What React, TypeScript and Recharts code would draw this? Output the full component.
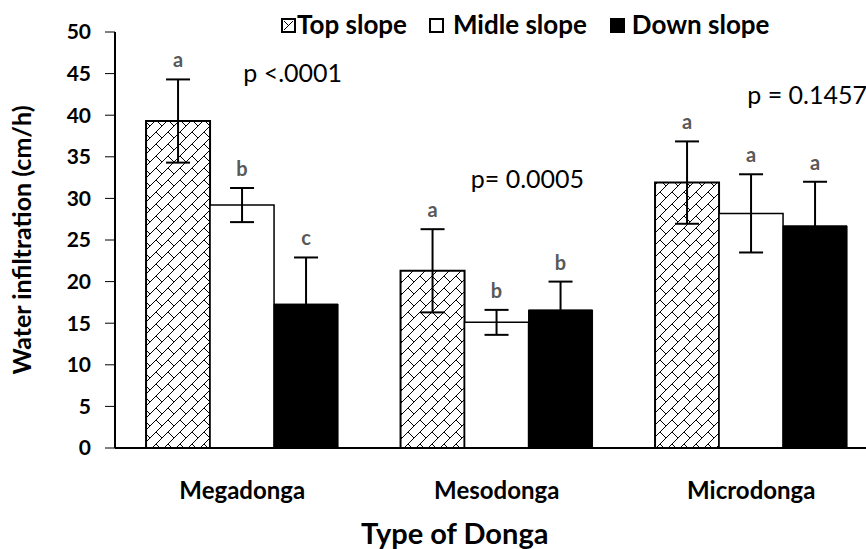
import React from "react";
import {
  Bar,
  BarChart,
  ErrorBar,
  LabelList,
  Legend,
  ReferenceDot,
  XAxis,
  YAxis,
} from "recharts";

const categories = ["Megadonga", "Mesodonga", "Microdonga"];
const topSlope = [39.3, 21.3, 31.9];
const topSlopeErr = [5.0, 5.0, 4.95];
const midSlope = [29.2, 15.1, 28.2];
const midSlopeErr = [2.05, 1.5, 4.7];
const downSlope = [17.3, 16.6, 26.7];
const downSlopeErr = [5.6, 3.4, 5.3];
const topLetters = ["a", "a", "a"];
const midLetters = ["b", "b", "a"];
const downLetters = ["c", "b", "a"];
const yTicks = [0, 5, 10, 15, 20, 25, 30, 35, 40, 45, 50];
const pValues = [
  { cat: "Megadonga", y: 44.0, dx: 1, text: "p <.0001" },
  { cat: "Mesodonga", y: 31.3, dx: -26, text: "p= 0.0005" },
  { cat: "Microdonga", y: 41.3, dx: -4, text: "p = 0.1457" },
];

const data = categories.map((name, i) => ({
  name,
  top: topSlope[i],
  topErr: topSlopeErr[i],
  mid: midSlope[i],
  midErr: midSlopeErr[i],
  down: downSlope[i],
  downErr: downSlopeErr[i],
}));

const FONT = "Lato, 'Open Sans', sans-serif";
const LEGEND_H = 30;

// letter above the error bar, placed from the bar's own pixel height
function letterContent(values: number[], errs: number[], letters: string[]) {
  return (props: any) => {
    const { x, y, width, height, index } = props;
    const ppu = height / values[index];
    const ly = y - errs[index] * ppu - 12;
    return (
      <text
        x={x + width / 2}
        y={ly}
        textAnchor="middle"
        fill="#595959"
        fontFamily={FONT}
        fontWeight={700}
        fontSize={20}
      >
        {letters[index]}
      </text>
    );
  };
}

function LegendBox() {
  const items = [
    { label: "Top slope", kind: "hatch", gap: 1, after: 22 },
    { label: "Midle slope", kind: "white", gap: 9, after: 23 },
    { label: "Down slope", kind: "black", gap: 7, after: 0 },
  ];
  return (
    <div style={{ display: "flex", height: LEGEND_H, alignItems: "center", fontFamily: FONT, fontWeight: 700, fontSize: 26, lineHeight: LEGEND_H + "px" }}>
      {items.map((it) => (
        <div key={it.label} style={{ display: "flex", alignItems: "center", marginRight: it.after }}>
          <svg width={15} height={15} style={{ marginRight: it.gap, marginTop: 2 }}>
            <rect
              x={1}
              y={1}
              width={13}
              height={13}
              fill={it.kind === "black" ? "#000" : "#fff"}
              stroke="#000"
              strokeWidth={2}
            />
            {it.kind === "hatch" && <path d="M3,12 L12,3 M3,3 L7.5,7.5" stroke="#000" strokeWidth={1} />}
          </svg>
          <span style={{ color: "#000" }}>{it.label}</span>
        </div>
      ))}
    </div>
  );
}

const XTick = (props: any) => {
  const { x, y, payload } = props;
  return (
    <text x={x} y={y + 49} textAnchor="middle" fontFamily={FONT} fontWeight={700} fontSize={24} fill="#000">
      {payload.value}
    </text>
  );
};

export default function App() {
  return (
    <div style={{ position: "absolute", left: 0, top: 0, width: 866, height: 549, overflow: "hidden", background: "#fff" }}>
      <BarChart
        width={890}
        height={549}
        data={data}
        margin={{ top: 32 - LEGEND_H, right: 11.5, left: 0, bottom: 0 }}
        barCategoryGap="12.2%"
        barGap={0}
      >
        <defs>
          <pattern id="brick" width={12} height={12} patternUnits="userSpaceOnUse">
            <rect width={12} height={12} fill="#fff" />
            <path d="M-1,13 L13,-1 M0,0 L6,6" stroke="#000" strokeWidth={1} fill="none" />
          </pattern>
        </defs>
        <XAxis
          dataKey="name"
          height={101}
          axisLine={{ stroke: "#000", strokeWidth: 2 }}
          tickLine={false}
          tickSize={0}
          tick={<XTick />}
          interval={0}
          label={{
            value: "Type of Donga",
            position: "insideBottom",
            offset: 5,
            dx: -42,
            fontFamily: FONT,
            fontWeight: 700,
            fontSize: 29,
            fill: "#000",
          }}
        />
        <YAxis
          width={115}
          domain={[0, 50]}
          ticks={yTicks}
          interval={0}
          axisLine={{ stroke: "#000", strokeWidth: 2 }}
          tickLine={{ stroke: "#000", strokeWidth: 1 }}
          tickSize={10}
          tickMargin={14}
          tick={{ fontFamily: FONT, fontWeight: 700, fontSize: 21, fill: "#000" }}
          label={{
            value: "Water infiltration (cm/h)",
            angle: -90,
            position: "insideLeft",
            dx: 17,
            fontFamily: FONT,
            fontWeight: 700,
            fontSize: 25,
            fill: "#000",
            style: { textAnchor: "middle" },
          }}
        />
        <Legend
          verticalAlign="top"
          align="left"
          content={<LegendBox />}
          wrapperStyle={{ top: 9, left: 281, width: 600, height: LEGEND_H }}
        />
        <Bar dataKey="top" name="Top slope" fill="url(#brick)" stroke="#000" strokeWidth={2} isAnimationActive={false}>
          <ErrorBar dataKey="topErr" width={12} strokeWidth={2} stroke="#000" direction="y" />
          <LabelList dataKey="top" content={letterContent(topSlope, topSlopeErr, topLetters)} />
        </Bar>
        <Bar dataKey="mid" name="Midle slope" fill="#fff" stroke="#000" strokeWidth={1.5} isAnimationActive={false}>
          <ErrorBar dataKey="midErr" width={12} strokeWidth={2} stroke="#000" direction="y" />
          <LabelList dataKey="mid" content={letterContent(midSlope, midSlopeErr, midLetters)} />
        </Bar>
        <Bar dataKey="down" name="Down slope" fill="#000" stroke="#000" strokeWidth={1} isAnimationActive={false}>
          <ErrorBar dataKey="downErr" width={12} strokeWidth={2} stroke="#000" direction="y" />
          <LabelList dataKey="down" content={letterContent(downSlope, downSlopeErr, downLetters)} />
        </Bar>
        {pValues.map((p) => (
          <ReferenceDot
            key={p.text}
            x={p.cat}
            y={p.y}
            r={0}
            fill="none"
            stroke="none"
            label={(lp: any) => {
              const vb = lp.viewBox || {};
              return (
                <text x={vb.x + p.dx} y={vb.y} fontFamily={FONT} fontSize={25} fill="#000">
                  {p.text}
                </text>
              );
            }}
          />
        ))}
      </BarChart>
    </div>
  );
}
